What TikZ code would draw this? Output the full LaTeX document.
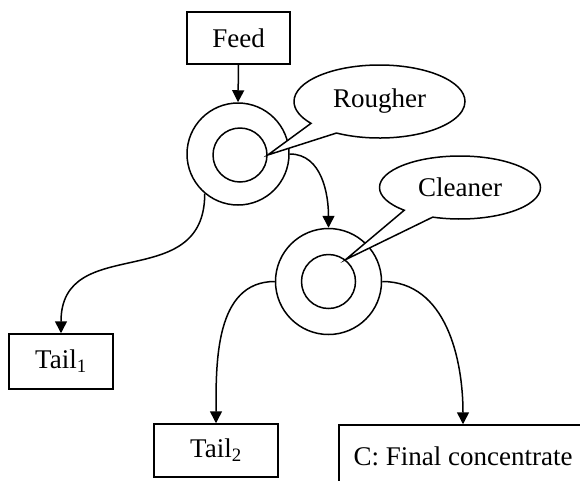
\documentclass[tikz,border=0pt]{standalone}
\usepackage{fontspec}
\setmainfont{Liberation Serif}
\usetikzlibrary{arrows.meta,shapes.callouts,shapes.geometric}
\begin{document}
\begin{tikzpicture}[x=1pt,y=1pt,
  every node/.style={font=\fontsize{27}{31}\selectfont},
  lw/.style={line width=1.5pt},
  box/.style={draw,lw,rectangle,inner sep=0pt},
  ring/.style={draw,lw,circle,inner sep=0pt},
  bubble/.style={draw,lw,ellipse callout,inner sep=0pt,fill=white},
  flow/.style={lw,-{Triangle[length=12pt,width=12pt]}}]
\clip (0,0) rectangle (580,-480);
\fill[white] (0,0) rectangle (580,-480);
% boxes
\node[box,minimum width=103pt,minimum height=52pt] (feed) at (238.5,-38) {Feed};
\node[box,minimum width=104pt,minimum height=55pt] (tail1) at (61,-361.5) {Tail\textsubscript{1}};
\node[box,minimum width=124pt,minimum height=53pt] (tail2) at (216,-450.5) {Tail\textsubscript{2}};
\node[box,minimum width=248pt,minimum height=62pt] (conc) at (463,-456) {C: Final concentrate};
% cells
\node[ring,minimum size=102pt] (rout) at (238,-154) {};
\node[ring,minimum size=54pt] (rin) at (240,-155) {};
\node[ring,minimum size=106pt] (cout) at (328.5,-281.5) {};
\node[ring,minimum size=54pt] (cin) at (328.5,-281.5) {};
% connectors
\draw[flow] (feed.south) -- (rout.north);
\draw[flow] (rout.east) to[out=0,in=90] (cout.north);
\draw[flow] (rout.230) to[out=-90,in=90,looseness=1.3] (tail1.north);
\draw[flow] (cout.west) to[out=180,in=90] (tail2.north);
\draw[flow] (cout.east) to[out=0,in=90] (conc.north);
% callouts
\node[bubble,minimum width=171pt,minimum height=73pt,callout pointer arc=23,
  callout absolute pointer={(rin.east)}] (rough) at (379.5,-101.5) {Rougher};
\node[bubble,minimum width=161pt,minimum height=63pt,callout pointer arc=24,
  callout absolute pointer={(cin.52)}] (clean) at (460,-187.5) {Cleaner};
\end{tikzpicture}
\end{document}
